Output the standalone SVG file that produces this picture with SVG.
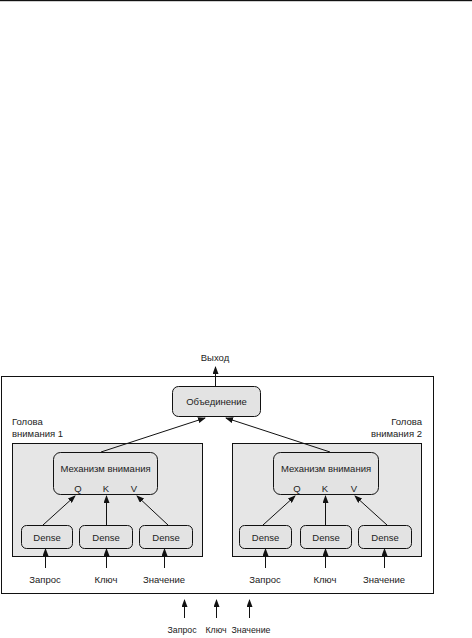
<svg xmlns="http://www.w3.org/2000/svg" width="472" height="638" viewBox="0 0 472 638">
<defs>
<marker id="ah" markerWidth="8" markerHeight="6" refX="7" refY="3" orient="auto" markerUnits="userSpaceOnUse">
<path d="M0,0 L8,3 L0,6 Z" fill="#111"/>
</marker>
<style>
.t{font-family:"Liberation Sans",Arial,sans-serif;font-size:9.5px;fill:#222}
.s{font-size:8.8px}
.c{text-anchor:middle}
.r{text-anchor:end}
.box{fill:#e3e3e3;stroke:#111;stroke-width:1}
.head{fill:#e6e6e6;stroke:#111;stroke-width:1}
.ln{stroke:#111;stroke-width:1;fill:none;marker-end:url(#ah)}
</style>
</defs>
<rect x="0" y="0" width="472" height="1.2" fill="#111"/>
<g id="outer"><rect x="1.5" y="376.5" width="432" height="217" fill="#fff" stroke="#111" stroke-width="1"/></g>
<g id="output-label"><text class="t c" x="215" y="361">Выход</text></g>
<g id="head1">
<rect class="head" x="12.5" y="443.5" width="190" height="113"/>
<text class="t" x="12" y="425">Голова</text>
<text class="t" x="12" y="437">внимания 1</text>
</g>
<g id="head2">
<rect class="head" x="232.5" y="443.5" width="189" height="113"/>
<text class="t r" x="422" y="425">Голова</text>
<text class="t r" x="422" y="437">внимания 2</text>
</g>
<g id="concat">
<rect class="box" x="172.5" y="386.5" width="88" height="30" rx="6"/>
<text class="t c" x="216.5" y="405">Объединение</text>
</g>
<g id="attn1">
<rect class="box" x="53.5" y="452.5" width="104" height="42" rx="7"/>
<text class="t c" x="105.5" y="472">Механизм внимания</text>
<text class="t c" x="78" y="492">Q</text>
<text class="t c" x="106" y="492">K</text>
<text class="t c" x="134" y="492">V</text>
</g>
<g id="attn2">
<rect class="box" x="273.5" y="452.5" width="105" height="42" rx="7"/>
<text class="t c" x="326" y="472">Механизм внимания</text>
<text class="t c" x="297" y="492">Q</text>
<text class="t c" x="325" y="492">K</text>
<text class="t c" x="354" y="492">V</text>
</g>
<g id="dense1q"><rect class="box" x="21.5" y="525.5" width="51" height="23" rx="5"/><text class="t c" x="47" y="541">Dense</text></g>
<g id="dense1k"><rect class="box" x="79.5" y="525.5" width="53" height="23" rx="5"/><text class="t c" x="106" y="541">Dense</text></g>
<g id="dense1v"><rect class="box" x="139.5" y="525.5" width="53" height="23" rx="5"/><text class="t c" x="166" y="541">Dense</text></g>
<g id="dense2q"><rect class="box" x="239.5" y="525.5" width="52" height="23" rx="5"/><text class="t c" x="265.5" y="541">Dense</text></g>
<g id="dense2k"><rect class="box" x="300.5" y="525.5" width="51" height="23" rx="5"/><text class="t c" x="326" y="541">Dense</text></g>
<g id="dense2v"><rect class="box" x="358.5" y="525.5" width="53" height="23" rx="5"/><text class="t c" x="385" y="541">Dense</text></g>
<g id="labels">
<text class="t c" x="45" y="583">Запрос</text>
<text class="t c" x="106" y="583">Ключ</text>
<text class="t c" x="164" y="583">Значение</text>
<text class="t c" x="265" y="583">Запрос</text>
<text class="t c" x="325" y="583">Ключ</text>
<text class="t c" x="384" y="583">Значение</text>
<text class="t s c" x="182" y="633">Запрос</text>
<text class="t s c" x="216" y="633">Ключ</text>
<text class="t s c" x="251" y="633">Значение</text>
</g>
<g id="connectors">
<line class="ln" x1="215.5" y1="386" x2="215.5" y2="367"/>
<line class="ln" x1="101" y1="452" x2="205" y2="418"/>
<line class="ln" x1="330" y1="452" x2="226" y2="418"/>
<line class="ln" x1="43" y1="525" x2="75" y2="496"/>
<line class="ln" x1="106.5" y1="525" x2="106.5" y2="496"/>
<line class="ln" x1="168" y1="525" x2="137" y2="496"/>
<line class="ln" x1="263" y1="525" x2="295" y2="496"/>
<line class="ln" x1="325.5" y1="525" x2="325.5" y2="496"/>
<line class="ln" x1="387" y1="525" x2="355" y2="496"/>
<line class="ln" x1="45.5" y1="568" x2="45.5" y2="549"/>
<line class="ln" x1="106.5" y1="568" x2="106.5" y2="549"/>
<line class="ln" x1="164.5" y1="568" x2="164.5" y2="549"/>
<line class="ln" x1="265.5" y1="568" x2="265.5" y2="549"/>
<line class="ln" x1="325.5" y1="568" x2="325.5" y2="549"/>
<line class="ln" x1="384.5" y1="568" x2="384.5" y2="549"/>
<line class="ln" x1="184.5" y1="618" x2="184.5" y2="600"/>
<line class="ln" x1="216.5" y1="618" x2="216.5" y2="600"/>
<line class="ln" x1="249.5" y1="618" x2="249.5" y2="600"/>
</g>
</svg>
